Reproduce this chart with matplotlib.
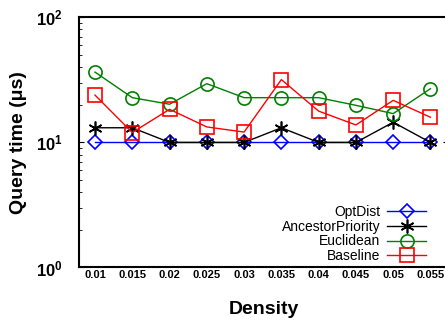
import numpy as np
import matplotlib
matplotlib.use("Agg")
import matplotlib.pyplot as plt
from matplotlib.ticker import LogLocator, NullFormatter

plt.rcParams['font.family'] = ['Liberation Sans', 'DejaVu Sans']

density = [0.01, 0.015, 0.02, 0.025, 0.03, 0.035, 0.04, 0.045, 0.05, 0.055]
tick_labels = ['0.01', '0.015', '0.02', '0.025', '0.03', '0.035', '0.04', '0.045', '0.05', '0.055']

opt_dist = [10, 10, 10, 10, 10, 10, 10, 10, 10, 10]
ancestor_priority = [13.1, 13.1, 10, 10, 10, 13.1, 10, 10, 14.5, 10]
euclidean = [36.5, 22.8, 20.2, 29.5, 22.8, 22.8, 22.8, 19.8, 17.0, 26.9]
baseline = [23.9, 12.0, 18.4, 13.3, 12.1, 31.8, 17.8, 13.8, 21.7, 15.9]

fig = plt.figure(figsize=(4.45, 3.24), dpi=100)
ax = fig.add_axes([0.1775, 0.1744, 0.83, 0.772])

ax.plot(density, opt_dist, color='#0000ff', marker='D', markersize=7, fillstyle='none',
        markeredgewidth=1.2, linewidth=1, label='OptDist')
ax.plot(density, ancestor_priority, color='black', marker=(6, 2, 0), markersize=10,
        markeredgewidth=1.2, linewidth=1, label='AncestorPriority')
ax.plot(density, euclidean, color='#007f00', marker='o', markersize=9.5, fillstyle='none',
        markeredgewidth=1.2, linewidth=1, label='Euclidean')
ax.plot(density, baseline, color='#ff0000', marker='s', markersize=9.5, fillstyle='none',
        markeredgewidth=1.2, linewidth=1, label='Baseline')

ax.set_yscale('log')
ax.set_ylim(1, 100)
ax.set_xlim(0.00785, 0.0574)
ax.set_xticks(density)
ax.set_xticklabels(tick_labels, fontsize=8, fontweight='bold')
ax.tick_params(axis='x', length=0, pad=2)
ax.yaxis.set_major_locator(LogLocator(base=10))
ax.yaxis.set_minor_locator(LogLocator(base=10, subs=np.arange(2, 10)))
ax.yaxis.set_minor_formatter(NullFormatter())
ax.tick_params(axis='y', which='both', direction='in', right=True, labelsize=12, pad=12)
for lab in ax.get_yticklabels():
    lab.set_fontweight('bold')
for s in ax.spines.values():
    s.set_linewidth(1.5)

ax.set_xlabel('Density', fontsize=14, fontweight='bold', labelpad=15)
ax.set_ylabel('Query time (\u03bcs)', fontsize=14, fontweight='bold', labelpad=6)

ax.legend(loc='lower right', bbox_to_anchor=(0.955, -0.005), markerfirst=False, frameon=False,
          fontsize=10, handlelength=2.8, labelspacing=0.05, handletextpad=0.5,
          borderaxespad=0.0)

fig.savefig('out.png', dpi=100)
